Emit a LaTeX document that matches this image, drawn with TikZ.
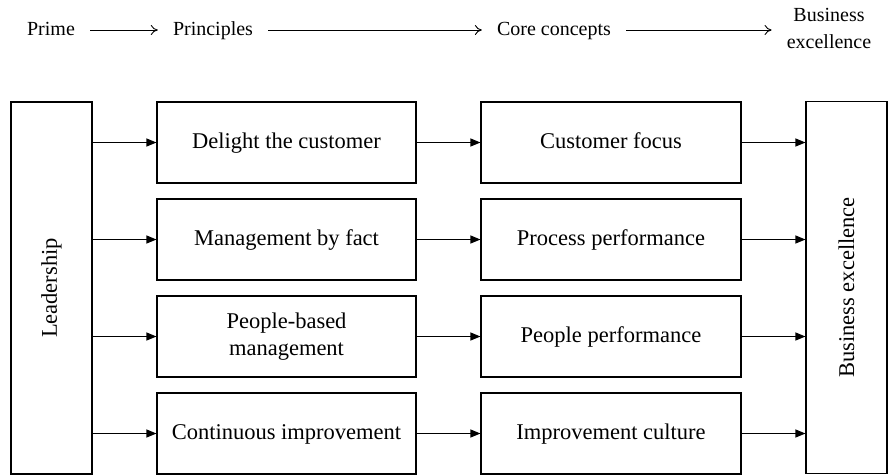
\documentclass[tikz,border=0pt]{standalone}
\usepackage{fontspec}
\setmainfont{Liberation Serif}
\usetikzlibrary{arrows.meta}
\begin{document}
\begin{tikzpicture}[x=1pt,y=-1pt,
  box/.style={draw,line width=1.1pt,minimum width=259pt,minimum height=81pt,inner sep=0pt,align=center,font=\fontsize{22.5}{26.5}\selectfont},
  one/.style={text height=16pt,text depth=5pt},
  tall/.style={draw,line width=1.1pt,minimum width=81pt,minimum height=372pt,inner sep=0pt},
  vlabel/.style={rotate=90,font=\fontsize{22.5}{26.5}\selectfont},
  head/.style={inner xsep=15pt,inner ysep=0pt,align=center,font=\fontsize{20}{27}\selectfont},
  hone/.style={text height=14pt,text depth=4pt},
  harrow/.style={-{To[length=7pt,width=10pt]},line width=0.9pt},
  barrow/.style={-{Triangle[length=10pt,width=8pt]},line width=1.1pt}]
\useasboundingbox (0,0) rectangle (889,475);

% header
\node[head,hone] (prime) at (51,30) {Prime};
\node[head,hone] (princ) at (213,30) {Principles};
\node[head,hone] (core) at (554,30) {Core concepts};
\node[head] (bus) at (829,28.5) {Business\\excellence};
\draw[harrow] (prime.east) -- (princ.west);
\draw[harrow] (princ.east) -- (core.west);
\draw[harrow] (core.east) -- (core.east -| bus.west);

% side boxes
\node[tall] (lead) at (51.5,288) {};
\node[vlabel] at (lead.center) {Leadership};
\node[tall] (exc) at (846.5,287.5) {};
\node[vlabel] at (exc.center) {Business excellence};

% principle boxes
\node[box,one] (p1) at (286.5,142.5) {Delight the customer};
\node[box,one] (p2) at (286.5,239.5) {Management by fact};
\node[box] (p3) at (286.5,336.5) {People-based\\management};
\node[box,one] (p4) at (286.5,433.5) {Continuous improvement};

% core boxes
\node[box,one,minimum width=260pt] (c1) at (611,142.5) {Customer focus};
\node[box,one,minimum width=260pt] (c2) at (611,239.5) {Process performance};
\node[box,one,minimum width=260pt] (c3) at (611,336.5) {People performance};
\node[box,one,minimum width=260pt] (c4) at (611,433.5) {Improvement culture};

\foreach \i in {1,2,3,4}{
  \draw[barrow] (p\i.west -| lead.east) -- (p\i.west);
  \draw[barrow] (p\i.east) -- (c\i.west);
  \draw[barrow] (c\i.east) -- (c\i.east -| exc.west);
}
\end{tikzpicture}
\end{document}
